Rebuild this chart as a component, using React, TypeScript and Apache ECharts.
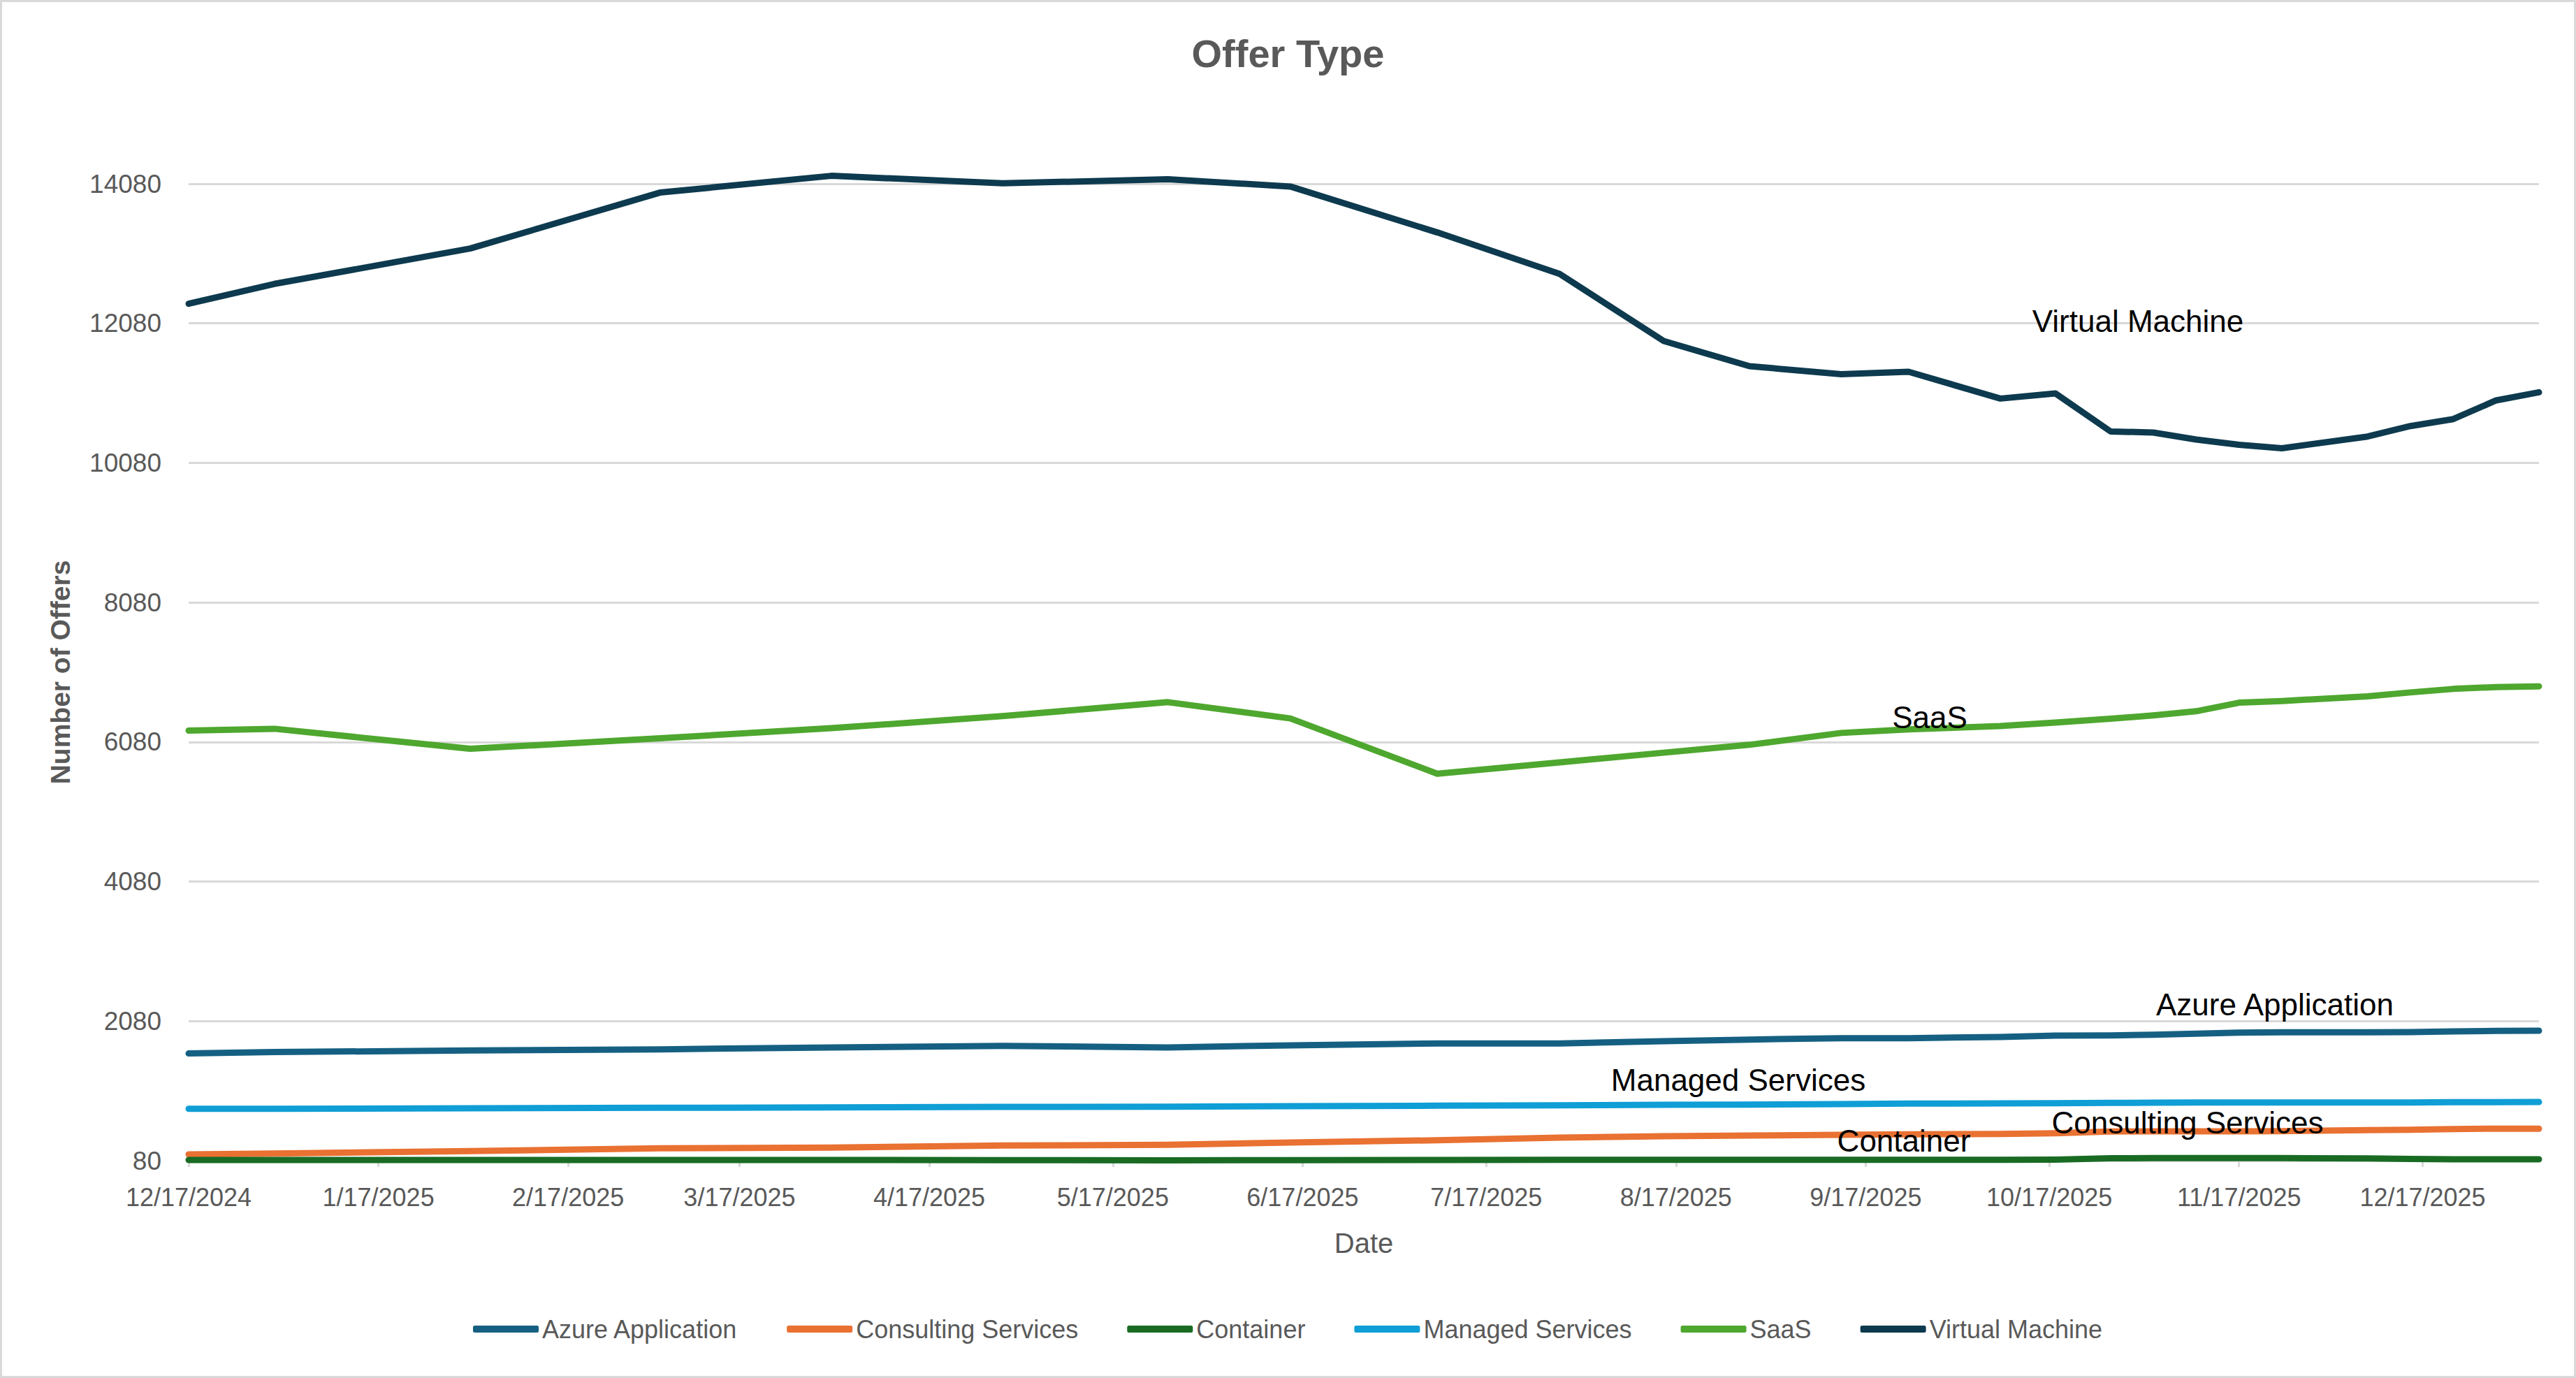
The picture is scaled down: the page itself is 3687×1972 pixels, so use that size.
import React, { useEffect, useRef } from "react";
import * as echarts from "echarts";

const dates = [
  "2024-12-17", "2024-12-31", "2025-02-01", "2025-03-04", "2025-04-01", "2025-04-29",
  "2025-05-26", "2025-06-15", "2025-07-09", "2025-07-29", "2025-08-15", "2025-08-29",
  "2025-09-13", "2025-09-24", "2025-10-09", "2025-10-18", "2025-10-27", "2025-11-03",
  "2025-11-10", "2025-11-17", "2025-11-24", "2025-12-08", "2025-12-15", "2025-12-22",
  "2025-12-29", "2026-01-05",
];

const tickDates = [
  "2024-12-17", "2025-01-17", "2025-02-17", "2025-03-17", "2025-04-17", "2025-05-17",
  "2025-06-17", "2025-07-17", "2025-08-17", "2025-09-17", "2025-10-17", "2025-11-17",
  "2025-12-17",
];

const azureApplication = [1616, 1636, 1660, 1676, 1703, 1726, 1703, 1733, 1760, 1760, 1793, 1816, 1836, 1836, 1853, 1873, 1876, 1886, 1900, 1916, 1920, 1920, 1923, 1933, 1940, 1943];
const consultingServices = [170, 183, 217, 257, 267, 297, 307, 340, 373, 411, 431, 441, 451, 458, 464, 474, 498, 501, 501, 501, 504, 518, 524, 534, 538, 538];
const container = [90, 90, 90, 90, 90, 88, 85, 88, 90, 92, 92, 92, 92, 92, 92, 95, 115, 117, 117, 117, 117, 112, 105, 100, 100, 100];
const managedServices = [824, 824, 831, 838, 844, 851, 854, 861, 868, 874, 881, 884, 891, 898, 901, 904, 908, 911, 914, 914, 914, 914, 914, 918, 918, 921];
const saas = [6244, 6270, 5983, 6133, 6278, 6451, 6651, 6418, 5626, 5788, 5927, 6040, 6210, 6261, 6308, 6358, 6414, 6461, 6521, 6644, 6668, 6734, 6791, 6841, 6868, 6878];
const virtualMachine = [12361, 12645, 13152, 13954, 14194, 14087, 14144, 14041, 13383, 12789, 11827, 11466, 11352, 11386, 11002, 11075, 10531, 10515, 10415, 10340, 10290, 10458, 10608, 10708, 10976, 11092];

const seriesNames = ["Azure Application", "Consulting Services", "Container", "Managed Services", "SaaS", "Virtual Machine"];
const seriesValues = [azureApplication, consultingServices, container, managedServices, saas, virtualMachine];
const seriesColors = ["#156082", "#E97132", "#196B24", "#0F9ED5", "#4EA72E", "#0D3A4E"];

const yMin = 80;
const yMax = 14080;
const yStep = 2000;

const DAY = 86400000;
const toDate = (s: string) => {
  const [y, m, d] = s.split("-").map(Number);
  return Date.UTC(y, m - 1, d);
};
const origin = toDate(dates[0]);
// day offset from the first date, used as the x value on a linear axis
const dayOf = (s: string) => Math.round((toDate(s) - origin) / DAY);
const fmtDay = (v: number) => {
  const d = new Date(origin + Math.round(v) * DAY);
  return `${d.getUTCMonth() + 1}/${d.getUTCDate()}/${d.getUTCFullYear()}`;
};

export default function App() {
  const ref = useRef<HTMLDivElement>(null);
  useEffect(() => {
    document.body.style.margin = "0";
    const chart = echarts.init(ref.current!, null, { renderer: "svg" });
    const font = "'Liberation Sans', Arial, sans-serif";
    const labelFont = `44px ${font}`;
    const mkLabel = (text: string, x: number, y: number) => ({
      type: "text",
      x,
      y,
      z: 100,
      silent: true,
      style: { text, font: labelFont, fill: "#000000", align: "center", verticalAlign: "middle" },
    });
    const ticks = tickDates.map(dayOf);
    chart.setOption({
      animation: false,
      backgroundColor: "#ffffff",
      textStyle: { fontFamily: font },
      title: {
        text: "Offer Type",
        left: "center",
        top: 43,
        textStyle: { fontSize: 56, fontWeight: "bold", color: "#595959", fontFamily: font },
      },
      legend: {
        data: seriesNames,
        left: 672,
        top: 1877,
        itemWidth: 94,
        itemHeight: 10,
        itemGap: 70,
        icon: "roundRect",
        textStyle: { fontSize: 36, color: "#595959", fontFamily: font, lineHeight: 40 },
      },
      grid: { left: 270, right: 53, top: 263, bottom: 311 },
      xAxis: {
        type: "value",
        min: dayOf(dates[0]),
        max: dayOf(dates[dates.length - 1]),
        name: "Date",
        nameLocation: "middle",
        nameGap: 98,
        nameTextStyle: { fontSize: 40, color: "#595959", fontFamily: font },
        axisLine: { show: true, lineStyle: { color: "#D9D9D9", width: 3 } },
        axisTick: { show: true, customValues: ticks, length: 9, lineStyle: { color: "#D9D9D9", width: 3 } },
        axisLabel: { customValues: ticks, formatter: fmtDay, fontSize: 36, color: "#595959", margin: 34, fontFamily: font },
        splitLine: { show: false },
      },
      yAxis: {
        type: "value",
        min: yMin,
        max: yMax,
        interval: yStep,
        name: "Number of Offers",
        nameLocation: "middle",
        nameGap: 164,
        nameTextStyle: { fontSize: 39, fontWeight: "bold", color: "#595959", fontFamily: font },
        axisLine: { show: false },
        axisTick: { show: false },
        axisLabel: { fontSize: 37, color: "#595959", margin: 39, fontFamily: font, formatter: (v: number) => String(v) },
        splitLine: { lineStyle: { color: "#D9D9D9", width: 3 } },
      },
      series: seriesNames.map((name, k) => ({
        name,
        type: "line",
        data: dates.map((d, i) => [dayOf(d), seriesValues[k][i]]),
        showSymbol: false,
        symbol: "none",
        clip: false,
        lineStyle: { width: 9, color: seriesColors[k], cap: "round", join: "round" },
        itemStyle: { color: seriesColors[k] },
        emphasis: { disabled: true },
      })),
      graphic: [
        {
          type: "rect",
          z: 101,
          silent: true,
          shape: { x: 1.5, y: 1.5, width: 3684, height: 1969 },
          style: { fill: "none", stroke: "#D9D9D9", lineWidth: 3 },
        },
        mkLabel("Virtual Machine", 3060, 459),
        mkLabel("SaaS", 2762, 1026),
        mkLabel("Azure Application", 3256, 1437),
        mkLabel("Managed Services", 2488, 1545),
        mkLabel("Container", 2725, 1632),
        mkLabel("Consulting Services", 3131, 1606),
      ],
    });
    return () => chart.dispose();
  }, []);
  return <div ref={ref} style={{ position: "absolute", left: 0, top: 0, width: 3687, height: 1972 }} />;
}
